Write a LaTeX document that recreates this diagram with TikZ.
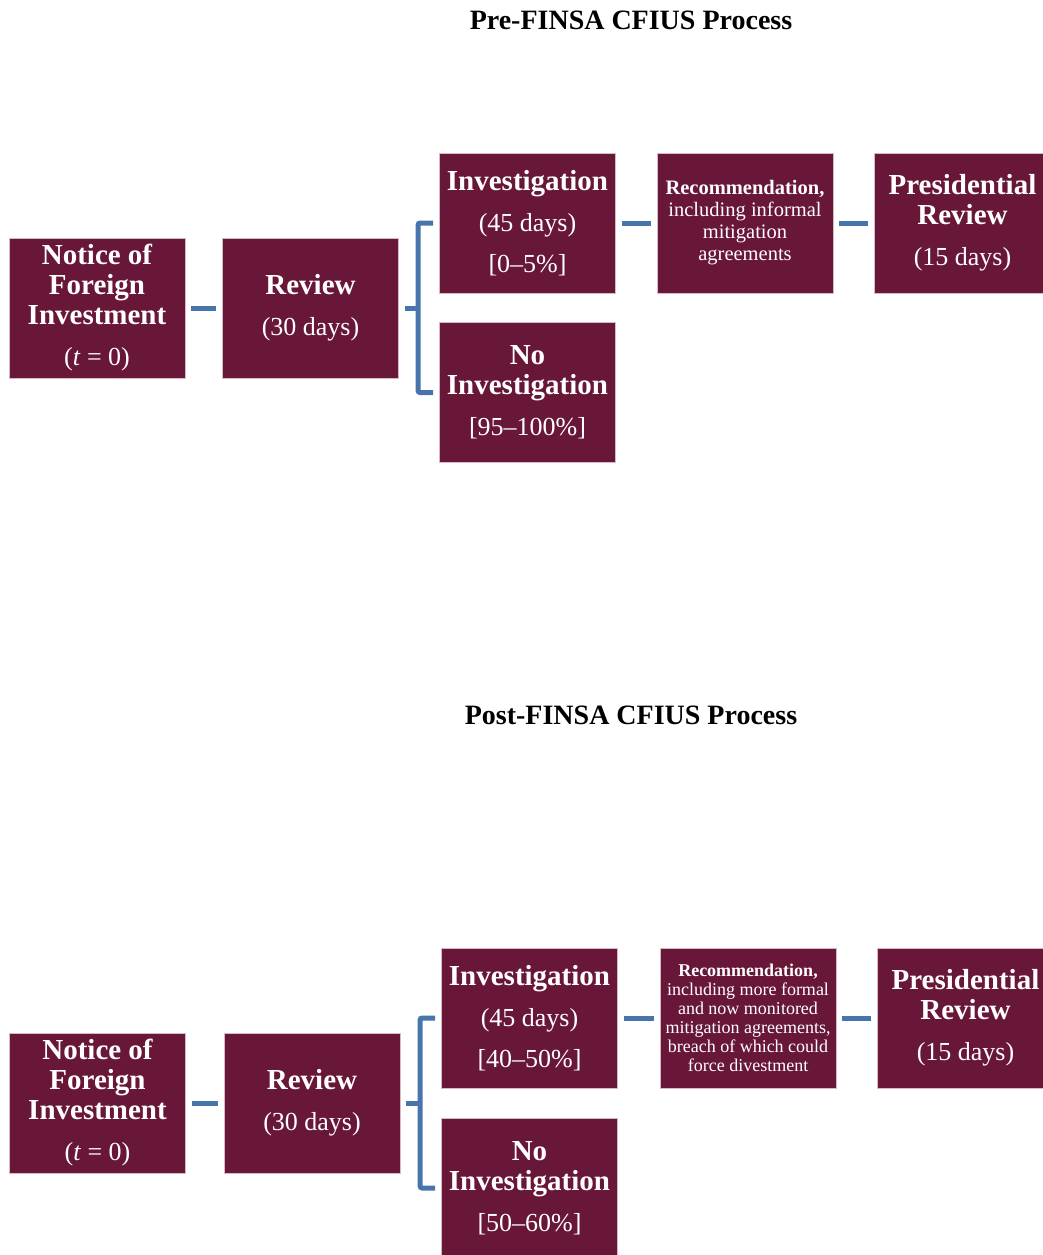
\documentclass[tikz,border=0pt]{standalone}
\usepackage{fontspec}
\setmainfont{Liberation Serif}
\definecolor{maroon}{RGB}{105,23,56}
\definecolor{boxedge}{RGB}{215,185,198}
\definecolor{connblue}{RGB}{72,116,172}
\newcommand\rgl{\mdseries\fontsize{26}{30}\selectfont}
\tikzset{
  box/.style={rectangle, fill=maroon, draw=boxedge, line width=0.8pt,
    minimum width=176pt, minimum height=140pt, inner sep=0pt, text=white,
    align=center, font=\bfseries\fontsize{29}{30}\selectfont},
  recA/.style={box, font=\fontsize{20.5}{22}\selectfont},
  recB/.style={box, font=\fontsize{18}{19}\selectfont},
  conn/.style={draw=connblue, line width=5pt, rounded corners=2pt},
  ttl/.style={font=\bfseries\fontsize{28}{30}\selectfont, inner sep=0pt}
}
\begin{document}
\begin{tikzpicture}[x=1pt,y=-1pt]
\clip (0,0) rectangle (1043,1255);
\useasboundingbox (0,0) rectangle (1043,1255);

% ---------- Pre-FINSA ----------
\node[ttl] (t1) at (631,20) {Pre-FINSA CFIUS Process};
\node[box] (n1) at (97,308) {Notice of\\Foreign\\Investment\\[11pt]{\rgl(\textit{t} = 0)}};
\node[box] (r1) at (310.5,308) {Review\\[11pt]{\rgl(30 days)}};
\node[box] (i1) at (527.5,223) {Investigation\\[11pt]{\rgl(45 days)}\\[11pt]{\rgl[0–5\%]}};
\node[box] (ni1) at (527.5,392.5) {No\\Investigation\\[11pt]{\rgl[95–100\%]}};
\node[recA] (rc1) at (745,223) {\textbf{Recommendation,}\\including informal\\mitigation\\agreements};
\node[box] (p1) at (962.5,223) {Presidential\\Review\\[11pt]{\rgl(15 days)}};

\draw[conn] ([xshift=6pt]n1.east) -- ([xshift=-6pt]r1.west);
\draw[conn] ([xshift=6pt]r1.east) -- ([xshift=-21pt]ni1.west |- r1.east);
\draw[conn] ([xshift=-6pt]i1.west) -| ([xshift=-21pt]ni1.west) -- ([xshift=-6pt]ni1.west);
\draw[conn] ([xshift=6pt]i1.east) -- ([xshift=-6pt]rc1.west);
\draw[conn] ([xshift=6pt]rc1.east) -- ([xshift=-6pt]p1.west);

% ---------- Post-FINSA ----------
\node[ttl] (t2) at (631,715) {Post-FINSA CFIUS Process};
\node[box] (n2) at (97.5,1103) {Notice of\\Foreign\\Investment\\[11pt]{\rgl(\textit{t} = 0)}};
\node[box] (r2) at (312,1103) {Review\\[11pt]{\rgl(30 days)}};
\node[box] (i2) at (529.5,1018) {Investigation\\[11pt]{\rgl(45 days)}\\[11pt]{\rgl[40–50\%]}};
\node[box] (ni2) at (529.5,1188) {No\\Investigation\\[11pt]{\rgl[50–60\%]}};
\node[recB] (rc2) at (748,1018) {\textbf{Recommendation,}\\including more formal\\and now monitored\\mitigation agreements,\\breach of which could\\force divestment};
\node[box] (p2) at (965.5,1018) {Presidential\\Review\\[11pt]{\rgl(15 days)}};

\draw[conn] ([xshift=6pt]n2.east) -- ([xshift=-6pt]r2.west);
\draw[conn] ([xshift=6pt]r2.east) -- ([xshift=-21pt]ni2.west |- r2.east);
\draw[conn] ([xshift=-6pt]i2.west) -| ([xshift=-21pt]ni2.west) -- ([xshift=-6pt]ni2.west);
\draw[conn] ([xshift=6pt]i2.east) -- ([xshift=-6pt]rc2.west);
\draw[conn] ([xshift=6pt]rc2.east) -- ([xshift=-6pt]p2.west);
\end{tikzpicture}
\end{document}
